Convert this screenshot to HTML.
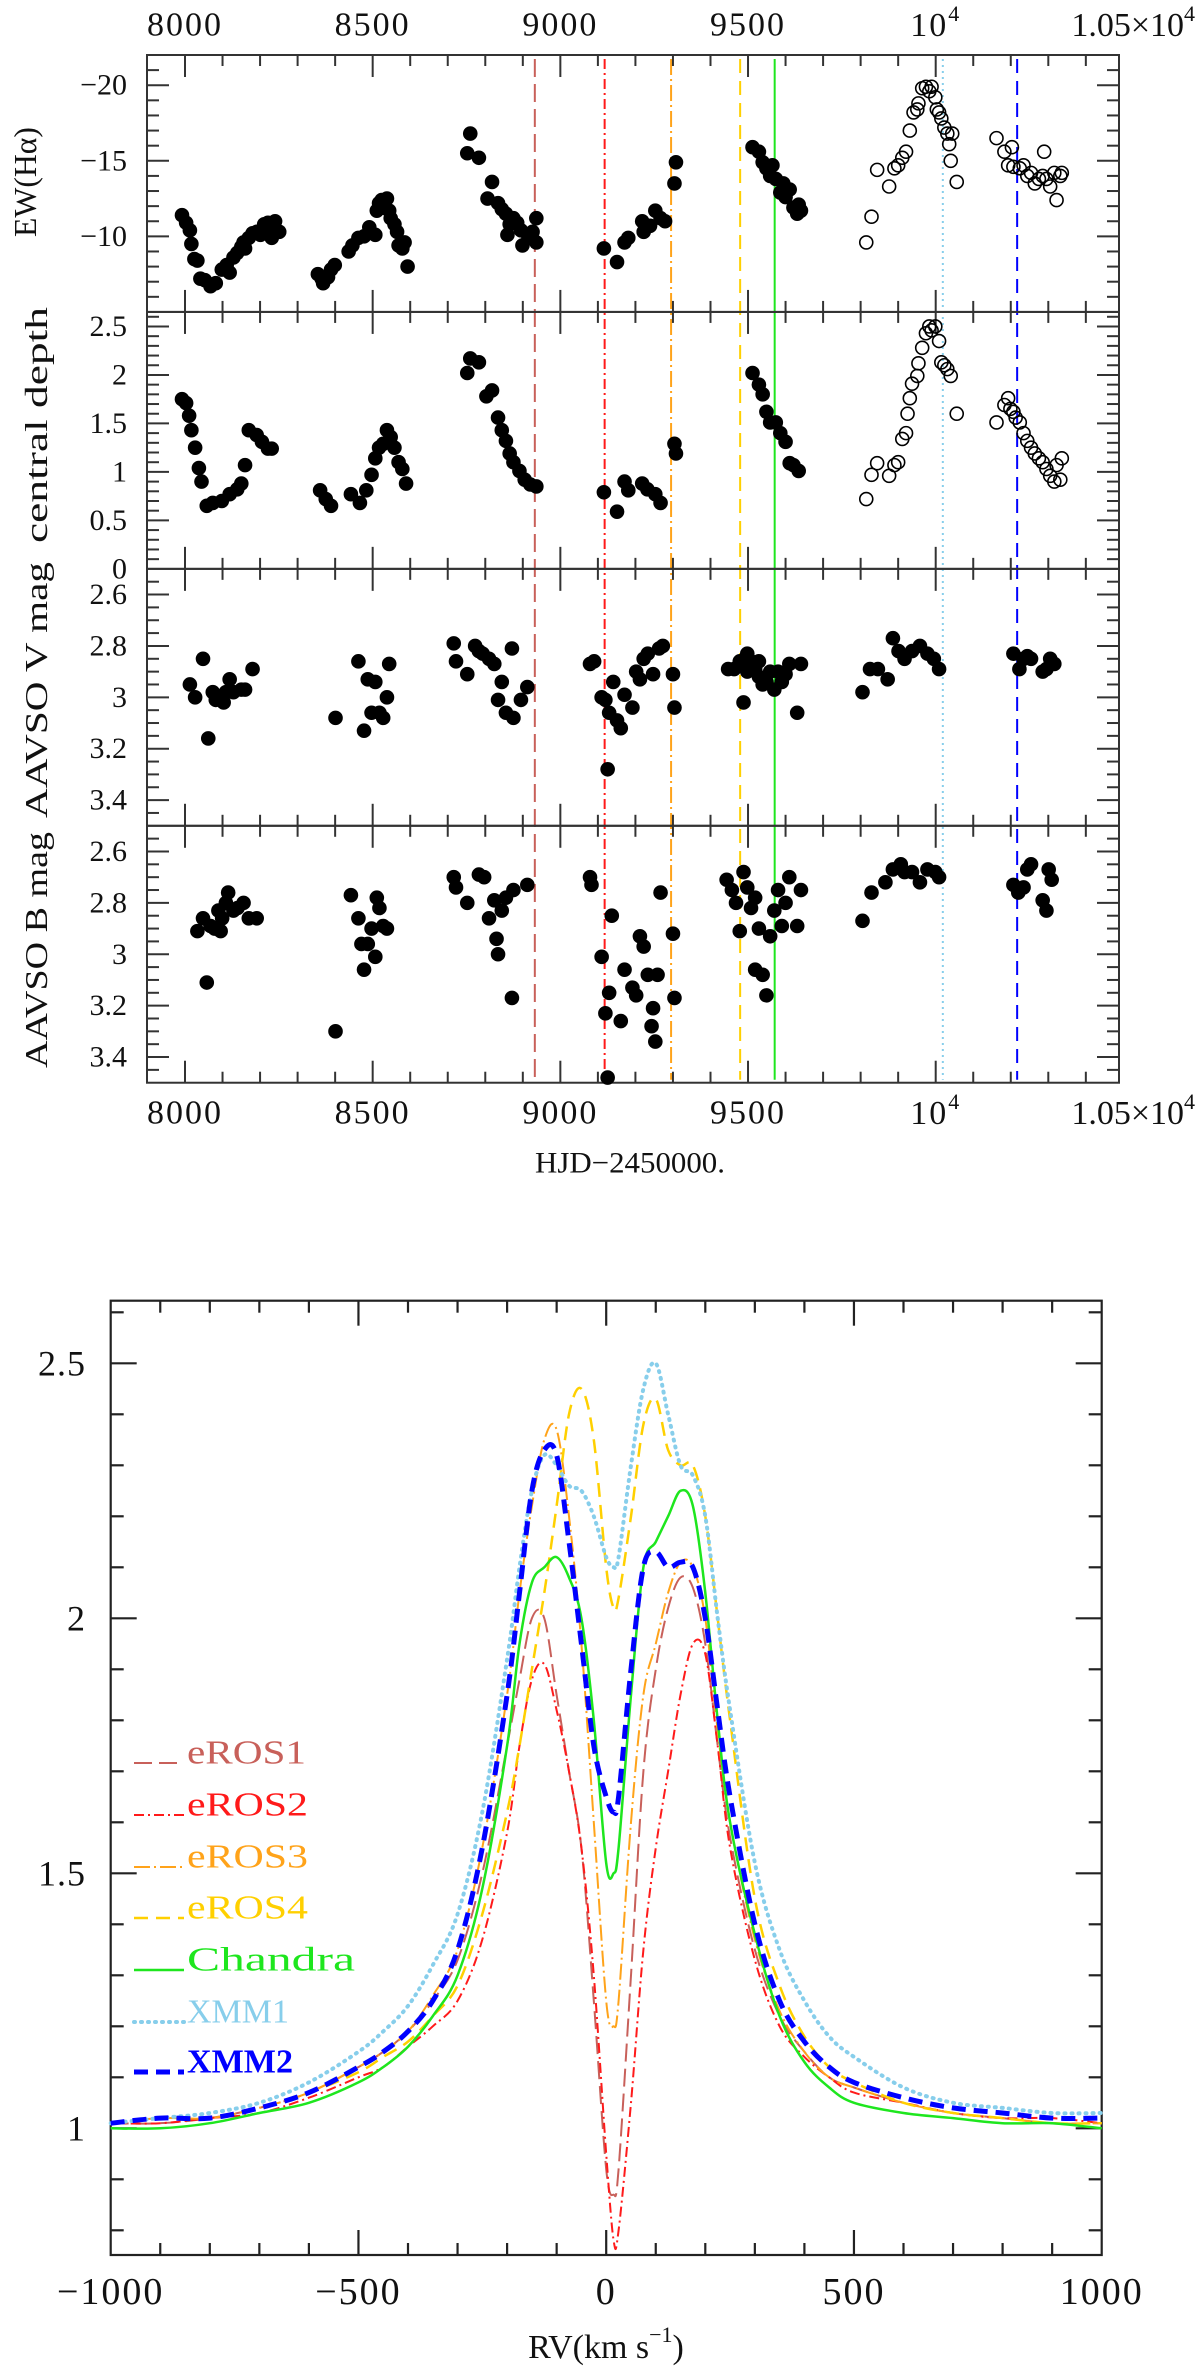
<!DOCTYPE html>
<html><head><meta charset="utf-8"><style>
html,body{margin:0;padding:0;background:#fff;}
svg{display:block;font-family:"Liberation Serif",serif;}
</style></head><body>
<svg id="fig" width="1200" height="2374" viewBox="0 0 1200 2374" xmlns="http://www.w3.org/2000/svg">
<rect x="0" y="0" width="1200" height="2374" fill="#fff"/>
<g id="topchart"></g>
<g id="botchart"></g>
</svg>
<script>
// ===== Top chart data =====
const epochNames = ["eROS1","eROS2","eROS3","eROS4","Chandra","XMM1","XMM2"];
const epochHJD = [8932,9118,9295,9479,9571,10019,10217];
const ewFilledX = [7992,8003,8013,8017,8025,8033,8041,8053,8068,8082,8098,8111,8119,8129,8139,8150,8156,8160,8170,8180,8191,8201,8211,8221,8233,8240,8251,8231,
8354,8364,8368,8381,8389,8399,8436,8446,8462,8477,8491,8507,8511,8517,8524,8528,8538,8544,8548,8558,8565,8569,8579,8585,8593,
8752,8760,8783,8806,8818,8834,8844,8855,8865,8859,8875,8885,8895,8899,8915,8926,8936,8936,
9116,9151,9171,9181,9218,9222,9239,9253,9267,9279,9304,9308,
9512,9529,9539,9549,9559,9565,9574,9586,9594,9600,9611,9621,9631,9635,9641];
const ewFilledY = [-11.4,-10.9,-10.4,-9.5,-8.5,-8.4,-7.2,-7.1,-6.7,-6.9,-7.8,-8.1,-7.6,-8.6,-8.9,-9.3,-9.6,-9.2,-9.9,-10.2,-10.3,-10.1,-10.8,-10.9,-10.5,-11.0,-10.3,-9.9,
-7.5,-7.2,-6.9,-7.3,-7.8,-8.1,-9.0,-9.4,-9.9,-10.0,-10.6,-10.1,-11.7,-12.2,-12.4,-11.9,-12.5,-11.7,-11.2,-10.8,-10.3,-9.4,-9.2,-9.6,-8.0,
-15.5,-16.8,-15.2,-12.5,-13.6,-12.2,-11.8,-11.5,-10.8,-10.1,-11.2,-10.9,-10.4,-9.4,-9.9,-10.3,-11.2,-9.6,
-9.2,-8.3,-9.6,-9.9,-11.0,-10.3,-10.7,-11.7,-11.2,-11.0,-13.5,-14.9,
-15.9,-15.6,-14.9,-14.5,-14.0,-14.7,-13.8,-12.9,-13.5,-12.6,-13.1,-11.9,-11.5,-12.1,-11.7];
const ewOpenX = [9815,9829,9844,9876,9890,9900,9911,9921,9931,9941,9951,9954,9964,9974,9983,9989,9999,10003,10009,10015,10023,10031,10036,10044,10040,10056,10162,10183,10193,10203,10207,10224,10234,10244,10254,10264,10275,10285,10289,10295,10305,10316,10322,10332,10336];
const ewOpenY = [-9.6,-11.3,-14.4,-13.3,-14.5,-14.7,-15.2,-15.6,-17.0,-18.2,-18.4,-18.8,-19.8,-19.9,-19.6,-19.9,-19.2,-18.4,-18.2,-17.8,-17.2,-16.8,-16.1,-16.8,-15.0,-13.6,-16.5,-15.6,-14.7,-15.9,-14.6,-14.5,-14.7,-14.0,-14.2,-13.5,-13.8,-14.0,-15.6,-13.8,-13.3,-14.2,-12.4,-14.0,-14.2];
const cdFilledX = [7992,8003,8011,8017,8027,8037,8044,8058,8074,8098,8119,8139,8150,8160,8170,8191,8205,8221,8231,
8360,8375,8389,8442,8466,8483,8497,8507,8517,8528,8538,8548,8558,8569,8579,8589,
8752,8760,8783,8803,8818,8834,8844,8855,8865,8875,8891,8905,8920,8936,
9116,9151,9171,9181,9218,9232,9253,9267,9308,9304,
9512,9529,9539,9549,9559,9574,9586,9600,9611,9621,9635];
const cdFilledY = [1.75,1.71,1.58,1.43,1.25,1.04,0.90,0.65,0.68,0.70,0.77,0.82,0.88,1.07,1.43,1.38,1.31,1.24,1.24,
0.81,0.72,0.65,0.77,0.68,0.81,0.97,1.14,1.25,1.29,1.43,1.36,1.25,1.10,1.03,0.88,
2.02,2.17,2.13,1.78,1.84,1.56,1.43,1.32,1.19,1.10,1.01,0.92,0.87,0.85,
0.79,0.59,0.90,0.81,0.88,0.82,0.77,0.68,1.19,1.29,
2.02,1.90,1.80,1.62,1.51,1.51,1.40,1.31,1.09,1.07,1.01];
const cdOpenX = [9815,9829,9844,9876,9890,9900,9911,9921,9925,9931,9937,9951,9954,9964,9974,9983,9989,9999,10009,10015,10023,10031,10040,10056,10162,10183,10193,10199,10207,10213,10224,10234,10244,10254,10264,10275,10285,10295,10305,10316,10322,10332,10336];
const cdOpenY = [0.72,0.97,1.09,0.96,1.07,1.10,1.34,1.40,1.60,1.76,1.91,1.99,2.12,2.28,2.43,2.50,2.46,2.50,2.35,2.13,2.10,2.06,1.99,1.60,1.51,1.69,1.76,1.65,1.62,1.56,1.51,1.40,1.32,1.25,1.19,1.14,1.10,1.03,0.96,0.90,1.07,0.92,1.14];
const vX = [8013,8027,8048,8062,8074,8089,8099,8109,8119,8129,8150,8160,8180,8082,8103,
8401,8462,8477,8487,8507,8518,8528,8538,8544,8497,
8716,8722,8752,8773,8783,8793,8810,8824,8834,8844,8855,8871,8875,8895,8912,
9079,9090,9110,9120,9130,9141,9151,9161,9171,9192,9202,9212,9222,9233,9247,9263,9273,9300,9304,9126,
9447,9463,9478,9488,9498,9508,9519,9529,9539,9549,9559,9570,9580,9590,9600,9610,9631,9641,9498,9529,
9805,9825,9846,9872,9886,9901,9917,9937,9958,9978,9995,10009,
10207,10223,10234,10244,10254,10285,10295,10305,10316];
const vMag = [2.95,3.00,2.85,3.16,2.98,3.00,3.01,2.98,2.93,2.98,2.97,2.97,2.89,3.01,3.02,
3.08,2.86,3.13,2.93,2.94,3.06,3.08,3.00,2.87,3.06,
2.79,2.86,2.91,2.80,2.82,2.83,2.85,2.87,3.01,2.94,3.06,2.81,3.08,3.01,2.96,
2.87,2.86,3.00,3.01,3.06,2.94,3.09,3.12,2.99,3.04,2.90,2.93,2.85,2.83,2.91,2.81,2.80,2.91,3.04,3.28,
2.89,2.89,2.86,3.02,2.83,2.86,2.89,2.92,2.95,2.94,2.90,2.97,2.90,2.94,2.91,2.87,3.06,2.87,2.90,2.86,
2.98,2.89,2.89,2.93,2.77,2.82,2.85,2.82,2.80,2.83,2.85,2.89,
2.83,2.89,2.85,2.84,2.85,2.90,2.89,2.85,2.87];
const bX = [8033,8048,8058,8068,8079,8089,8099,8109,8115,8129,8140,8156,8170,8191,8095,
8401,8442,8462,8470,8477,8487,8497,8507,8511,8518,8528,8538,
8716,8722,8752,8783,8797,8810,8824,8830,8834,8844,8855,8871,8875,8912,
9079,9083,9110,9120,9130,9137,9161,9171,9192,9202,9212,9222,9233,9243,9247,9253,9259,9267,9300,9304,9126,
9443,9457,9468,9478,9488,9498,9508,9519,9529,9539,9549,9559,9570,9580,9590,9600,9610,9631,9641,9519,
9805,9829,9866,9886,9907,9917,9937,9958,9978,9999,10009,
10207,10220,10234,10244,10254,10285,10295,10301,10309];
const bMag = [2.91,2.86,3.11,2.89,2.90,2.83,2.86,2.80,2.76,2.83,2.82,2.80,2.86,2.86,2.91,
3.30,2.77,2.86,2.96,3.06,2.96,2.90,3.01,2.78,2.82,2.89,2.90,
2.70,2.74,2.80,2.69,2.70,2.86,2.79,2.94,3.00,2.83,2.78,3.17,2.75,2.73,
2.70,2.73,3.01,3.23,3.15,2.85,3.26,3.06,3.13,3.16,2.93,2.97,3.08,3.28,3.21,3.34,3.08,2.76,2.92,3.17,3.48,
2.71,2.75,2.80,2.91,2.68,2.74,2.82,2.78,2.90,3.08,3.16,2.93,2.83,2.75,2.89,2.80,2.70,2.89,2.75,3.06,
2.87,2.76,2.72,2.67,2.65,2.68,2.68,2.72,2.67,2.68,2.70,
2.73,2.76,2.74,2.67,2.65,2.79,2.83,2.67,2.71];
const topTickLabels = ["8000","8500","9000","9500"];

// ===== Bottom chart data =====
const rv = [-1000,-900,-800,-700,-600,-500,-450,-400,-350,-300,-250,-200,-175,-150,-125,-100,-75,-50,-25,0,15,25,50,75,100,125,150,175,200,225,250,300,350,400,450,500,600,700,800,900,1000];
const fluxEROS1 = [1.01,1.01,1.02,1.04,1.07,1.12,1.15,1.19,1.25,1.33,1.5,1.75,1.88,2.0,2.0,1.85,1.7,1.55,1.25,0.92,0.87,0.92,1.3,1.7,1.9,2.02,2.08,2.06,1.95,1.75,1.57,1.35,1.22,1.15,1.1,1.08,1.05,1.03,1.02,1.01,1.01];
const fluxEROS2 = [1.01,1.01,1.02,1.03,1.06,1.1,1.12,1.16,1.2,1.25,1.37,1.58,1.75,1.88,1.91,1.82,1.7,1.55,1.3,0.95,0.78,0.8,1.05,1.35,1.55,1.7,1.85,1.95,1.93,1.75,1.55,1.33,1.2,1.14,1.1,1.07,1.05,1.03,1.02,1.02,1.01];
const fluxEROS3 = [1.01,1.02,1.02,1.04,1.07,1.12,1.15,1.19,1.26,1.35,1.55,1.85,2.05,2.22,2.35,2.37,2.2,1.95,1.6,1.25,1.2,1.25,1.6,1.85,1.95,2.05,2.11,2.1,2.0,1.78,1.6,1.37,1.23,1.15,1.1,1.08,1.05,1.03,1.02,1.01,1.01];
const fluxEROS4 = [1.01,1.02,1.02,1.04,1.07,1.11,1.14,1.17,1.22,1.28,1.42,1.62,1.75,1.9,2.05,2.22,2.4,2.45,2.35,2.1,2.02,2.04,2.2,2.38,2.43,2.33,2.3,2.3,2.2,2.0,1.8,1.45,1.28,1.18,1.12,1.09,1.05,1.03,1.02,1.01,1.01];
const fluxChandra = [1.0,1.0,1.01,1.03,1.05,1.09,1.12,1.16,1.22,1.3,1.47,1.75,1.95,2.07,2.1,2.12,2.08,2.0,1.8,1.52,1.5,1.55,1.85,2.1,2.15,2.2,2.25,2.22,2.05,1.8,1.6,1.38,1.22,1.13,1.08,1.05,1.03,1.02,1.01,1.01,1.0];
const fluxXMM1 = [1.01,1.02,1.03,1.05,1.09,1.15,1.19,1.24,1.32,1.42,1.62,1.92,2.1,2.25,2.32,2.3,2.26,2.25,2.2,2.12,2.1,2.12,2.3,2.45,2.5,2.4,2.3,2.28,2.2,2.0,1.82,1.52,1.35,1.25,1.18,1.14,1.08,1.05,1.04,1.03,1.03];
const fluxXMM2 = [1.01,1.02,1.02,1.04,1.07,1.12,1.15,1.19,1.25,1.35,1.55,1.85,2.05,2.25,2.33,2.32,2.15,1.95,1.75,1.65,1.62,1.65,1.9,2.1,2.13,2.1,2.11,2.1,2.0,1.82,1.65,1.4,1.25,1.17,1.12,1.09,1.06,1.04,1.03,1.02,1.02];
const rvTickVals = [-1000,-500,0,500,1000];
const fluxTickVals = [1,1.5,2,2.5];

const NS = "http://www.w3.org/2000/svg";
function mk(tag, attrs, parent){ const e=document.createElementNS(NS,tag); for(const k in attrs) e.setAttribute(k,attrs[k]); parent.appendChild(e); return e; }
function tsp(parent, txt, attrs){ const t=mk('tspan',attrs||{},parent); t.textContent=txt; return t; }
const styles = [
 {c:"#c8605a",d:"18,7",w:2},
 {c:"#ff1a1a",d:"10,4,2,4",w:2},
 {c:"#ffa31a",d:"16,4,2,4",w:2},
 {c:"#ffd000",d:"14,8",w:2.5},
 {c:"#1ee61e",d:"",w:2.5},
 {c:"#87ceeb",d:"1,6",w:4},
 {c:"#0000ff",d:"14,8",w:5}
];

// ===== Top chart =====
const topG = document.getElementById('topchart');
const L=147, R=1119, T0=55, PH=256.93;
function X(v){ return 185+(v-8000)*0.37535; }
const panels = [
 {name:"ew-panel", lo:-22, hi:-5, minor:1, major:5, labels:[-20,-15,-10], fmt:v=>"\u2212"+Math.abs(v), title:"EW(H\u03b1)", ty:182, tl:110, tx:36},
 {name:"central-depth-panel", lo:2.65, hi:0, minor:0.1, major:0.5, labels:[0,0.5,1,1.5,2,2.5], fmt:v=>String(v), title:"central depth", ty:425, tl:236, tx:47},
 {name:"v-mag-panel", lo:2.5, hi:3.5, minor:0.05, major:0.2, labels:[2.6,2.8,3,3.2,3.4], fmt:v=>String(v), title:"AAVSO V mag", ty:690, tl:256, tx:47},
 {name:"b-mag-panel", lo:2.5, hi:3.5, minor:0.05, major:0.2, labels:[2.6,2.8,3,3.2,3.4], fmt:v=>String(v), title:"AAVSO B mag", ty:950, tl:236, tx:47}
];
function Yp(i,v){ const p=panels[i]; return T0+i*PH+(v-p.lo)/(p.hi-p.lo)*PH; }

const vg = mk('g',{},topG);


epochHJD.forEach((h,i)=>{
  const s=styles[i];
  const ln = mk('line',{x1:X(h),x2:X(h),y1:T0+4,y2:T0+4*PH-3,stroke:s.c,'stroke-width':2,'stroke-dasharray':(i===5?"2,4":s.d)},vg);
  
  
});

panels.forEach((p,i)=>{
  const g = mk('g',{},topG);
  
  
  const yT=T0+i*PH, yB=yT+PH;
  mk('rect',{x:L,y:yT,width:R-L,height:PH,fill:'none',stroke:'#333','stroke-width':2},g);
  for(let v=7900; v<=10495; v+=100){
    const x=X(v); if(x<L+1||x>R-1) continue;
    const len = (v%500===0)?22:11;
    mk('line',{x1:x,x2:x,y1:yT,y2:yT+len,stroke:'#333','stroke-width':2},g);
    mk('line',{x1:x,x2:x,y1:yB,y2:yB-len,stroke:'#333','stroke-width':2},g);
  }
  const a=Math.min(p.lo,p.hi), b=Math.max(p.lo,p.hi);
  const n0=Math.ceil(a/p.minor-1e-6), n1=Math.floor(b/p.minor+1e-6);
  for(let n=n0;n<=n1;n++){
    const v=n*p.minor; const y=Yp(i,v);
    if(y<yT+1||y>yB-1) continue;
    const isMaj = Math.abs(v/p.major-Math.round(v/p.major))<1e-6;
    const len=isMaj?22:12;
    mk('line',{x1:L,x2:L+len,y1:y,y2:y,stroke:'#333','stroke-width':2},g);
    mk('line',{x1:R,x2:R-len,y1:y,y2:y,stroke:'#333','stroke-width':2},g);
  }
  p.labels.forEach(v=>{
    const t=mk('text',{x:127,y:Yp(i,v),'text-anchor':'end','dominant-baseline':'central','font-size':30,fill:'#111'},g);
    t.textContent=p.fmt(v);
    
    
  });
  const tt=mk('text',{x:p.tx,y:p.ty,'text-anchor':'middle','font-size':32,fill:'#111',transform:`rotate(-90 ${p.tx} ${p.ty})`,textLength:p.tl,lengthAdjust:'spacingAndGlyphs'},g);
  tt.textContent=p.title;
  
  
});

function dots(xs,ys,pi,open,name){
  const g=mk('g',{},topG);
  
  
  xs.forEach((v,k)=>{
    const c=mk('circle',{cx:X(v),cy:Yp(pi,ys[k]),r:open?6.5:7.3,fill:open?'none':'#000',stroke:'#000','stroke-width':open?1.6:0},g);
    
    
  });
}
dots(ewFilledX,ewFilledY,0,false,'ew-points');
dots(ewOpenX,ewOpenY,0,true,'ew-points-open');
dots(cdFilledX,cdFilledY,1,false,'central-depth-points');
dots(cdOpenX,cdOpenY,1,true,'central-depth-points-open');
dots(vX,vMag,2,false,'v-mag-points');
dots(bX,bMag,3,false,'b-mag-points');

function xLabel(v, y){
  const t=mk('text',{x:X(v),y:y,'text-anchor':'middle','dominant-baseline':'central','font-size':34,fill:'#111','letter-spacing':2},topG);
  
  
  return t;
}
[25,1113].forEach(yy=>{
  topTickLabels.forEach(s=>{ xLabel(+s,yy).textContent=s; });
  const t1=xLabel(10000,yy);
  tsp(t1,'10'); tsp(t1,'4',{'font-size':22,dy:-12});
  const t2=mk('text',{x:1195,y:yy,'text-anchor':'end','dominant-baseline':'central','font-size':34,fill:'#111'},topG);
  tsp(t2,'1.05\u00d710'); tsp(t2,'4',{'font-size':22,dy:-12});
  
  
});
const hj=mk('text',{x:630,y:1163,'text-anchor':'middle','dominant-baseline':'central','font-size':30,fill:'#111',textLength:190,lengthAdjust:'spacingAndGlyphs'},topG);
hj.textContent='HJD\u22122450000.';



// ===== Bottom chart =====
const botG=document.getElementById('botchart');
const BL=110.7, BR=1101.7, BT=1300.7, BB=2255;
function BX(v){ return BL+(v+1000)*(BR-BL)/2000; }
function BY(f){ return 2128.3-(f-1)*510; }
mk('rect',{x:BL,y:BT,width:BR-BL,height:BB-BT,fill:'none',stroke:'#222','stroke-width':2.2},botG);
for(let v=-900; v<1000; v+=100){
  const x=BX(v), len=(v%500===0)?25:12;
  mk('line',{x1:x,x2:x,y1:BB,y2:BB-len,stroke:'#222','stroke-width':2.2},botG);
  mk('line',{x1:x,x2:x,y1:BT,y2:BT+len,stroke:'#222','stroke-width':2.2},botG);
}
for(let n=8;n<=26;n++){
  const f=n/10, y=BY(f); if(y<BT+1||y>BB-1) continue;
  const len=(n%5===0)?26:13;
  mk('line',{x1:BL,x2:BL+len,y1:y,y2:y,stroke:'#222','stroke-width':2.2},botG);
  mk('line',{x1:BR,x2:BR-len,y1:y,y2:y,stroke:'#222','stroke-width':2.2},botG);
}
rvTickVals.forEach(v=>{
  const t=mk('text',{x:BX(v),y:2292,'text-anchor':'middle','dominant-baseline':'central','font-size':38,fill:'#111','letter-spacing':2},botG);
  t.textContent=(v<0?'\u2212':'')+Math.abs(v);
  
  
});
fluxTickVals.forEach(f=>{
  const t=mk('text',{x:86,y:BY(f),'text-anchor':'end','dominant-baseline':'central','font-size':36,fill:'#111','letter-spacing':1},botG);
  t.textContent=String(f);
  
  
});
const rvt=mk('text',{x:606,y:2347,'text-anchor':'middle','dominant-baseline':'central','font-size':34,fill:'#111'},botG);
tsp(rvt,'RV(km  s'); tsp(rvt,'\u22121',{'font-size':22,dy:-13}); tsp(rvt,')',{dy:13});



function smoothPath(pts){
  let d=`M${pts[0][0].toFixed(1)},${pts[0][1].toFixed(1)}`;
  for(let i=0;i<pts.length-1;i++){
    const p0=pts[Math.max(0,i-1)],p1=pts[i],p2=pts[i+1],p3=pts[Math.min(pts.length-1,i+2)];
    const c1x=p1[0]+(p2[0]-p0[0])/6,c1y=p1[1]+(p2[1]-p0[1])/6;
    const c2x=p2[0]-(p3[0]-p1[0])/6,c2y=p2[1]-(p3[1]-p1[1])/6;
    d+=` C${c1x.toFixed(1)},${c1y.toFixed(1)} ${c2x.toFixed(1)},${c2y.toFixed(1)} ${p2[0].toFixed(1)},${p2[1].toFixed(1)}`;
  }
  return d;
}
const series=[fluxEROS1,fluxEROS2,fluxEROS3,fluxEROS4,fluxChandra,fluxXMM1,fluxXMM2];
const legendY=[1753,1805,1857,1908,1960,2012,2062];
const legendW=[119,121,121,121,168,102,106];
series.forEach((arr,i)=>{
  const s=styles[i];
  const pts=rv.map((v,k)=>[BX(v),BY(arr[k])]);
  const p=mk('path',{d:smoothPath(pts),fill:'none',stroke:s.c,'stroke-width':s.w,'stroke-dasharray':s.d,'stroke-linecap':(i===5?'round':'butt')},botG);
  
  
  const lg=mk('g',{},botG);
  
  
  mk('line',{x1:134,x2:184,y1:legendY[i]+10,y2:legendY[i]+10,stroke:s.c,'stroke-width':s.w,'stroke-dasharray':s.d,'stroke-linecap':(i===5?'round':'butt')},lg);
  const t=mk('text',{x:187,y:legendY[i],'dominant-baseline':'central','font-size':34,fill:s.c,'font-weight':(i===6?'bold':'normal'),textLength:legendW[i],lengthAdjust:'spacingAndGlyphs'},lg);
  t.textContent=epochNames[i];
});
</script>
</body></html>
